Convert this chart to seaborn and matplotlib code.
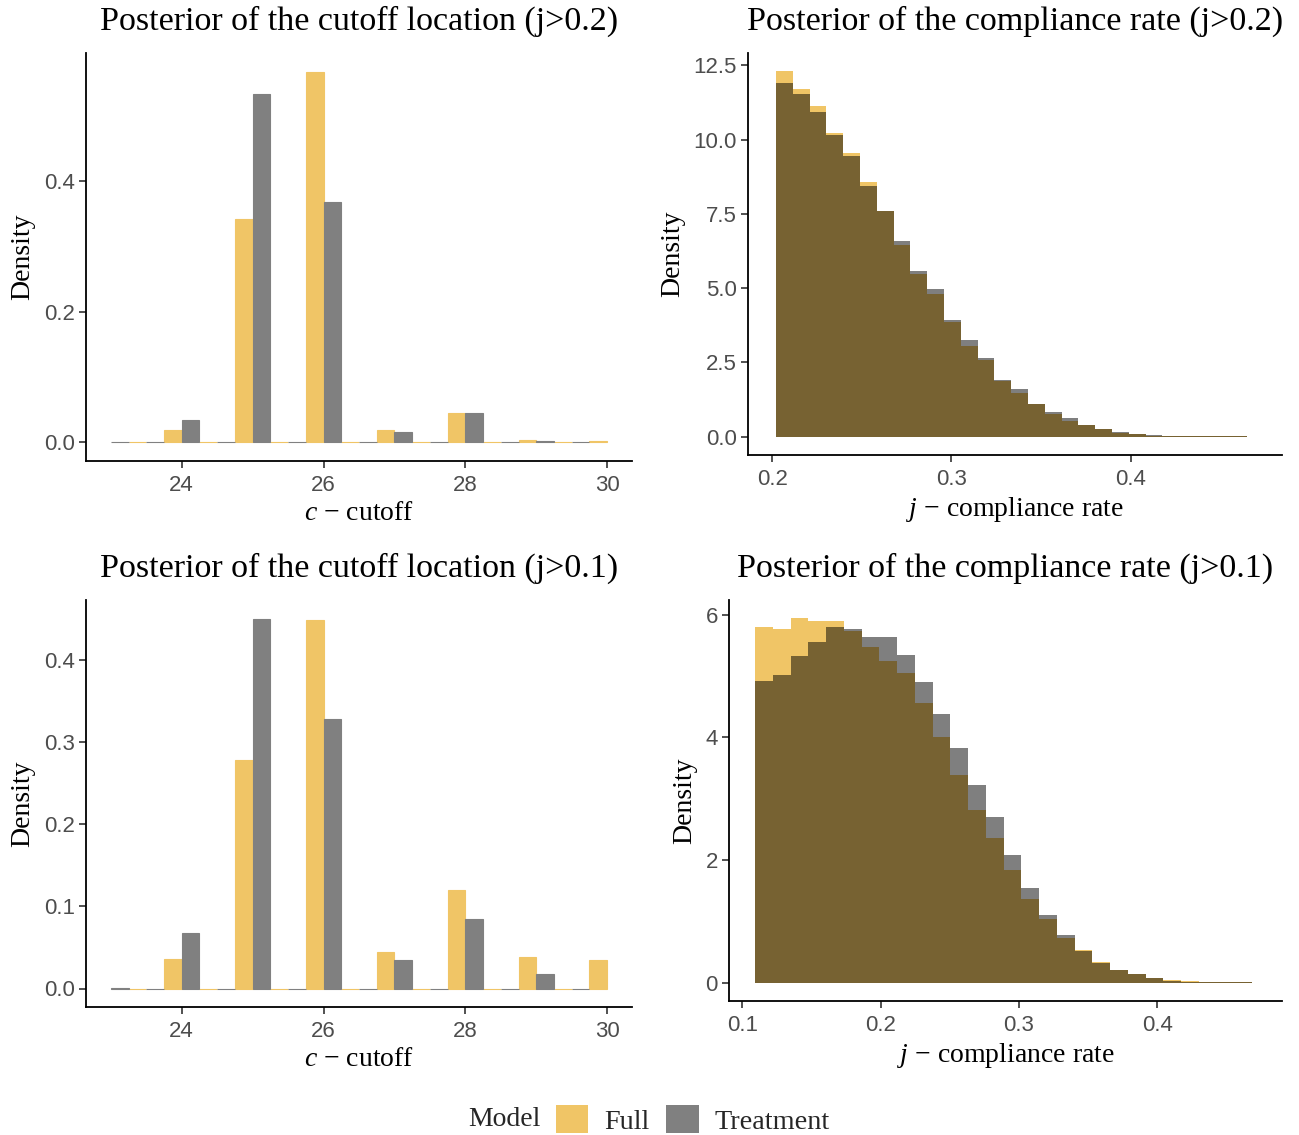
import numpy as np
import pandas as pd
import matplotlib
matplotlib.use("Agg")
import matplotlib.pyplot as plt
import seaborn as sns
from matplotlib.patches import Patch

# ---------------- data ----------------
models = ["Full", "Treatment"]

cutoff_pos = [23.0, 23.5, 24.0, 24.5, 25.0, 25.5, 26.0, 26.5,
              27.0, 27.5, 28.0, 28.5, 29.0, 29.5, 30.0]
# Posterior of the cutoff location (j>0.2)
full_cut_j02 = [np.nan, 0, 0.0194, 0, 0.342, 0, 0.568, 0,
                0.019, 0, 0.045, 0, 0.004, 0, 0.0025]
treat_cut_j02 = [0, 0, 0.0346, 0, 0.533, 0, 0.368, 0,
                 0.016, 0, 0.045, 0, 0.0025, 0, np.nan]
# Posterior of the cutoff location (j>0.1)
full_cut_j01 = [np.nan, 0, 0.036, 0, 0.278, 0, 0.449, 0,
                0.044, 0, 0.120, 0, 0.038, 0, 0.035]
treat_cut_j01 = [0.0012, 0, 0.068, 0, 0.451, 0, 0.329, 0,
                 0.035, 0, 0.085, 0, 0.018, 0, np.nan]

# Posterior of the compliance rate (j>0.2): 28 bins
rate_j02_range = (0.2021, 0.4647)
full_rate_j02 = [12.30, 11.69, 11.12, 10.21, 9.54, 8.57, 7.59, 6.45, 5.48, 4.81,
                 3.86, 3.06, 2.59, 1.88, 1.47, 1.11, 0.77, 0.54, 0.38, 0.25,
                 0.13, 0.10, 0.03, 0.03, 0.03, 0.01, 0.01, 0.01]
treat_rate_j02 = [11.90, 11.53, 10.92, 10.15, 9.44, 8.43, 7.59, 6.59, 5.58, 4.97,
                  3.93, 3.26, 2.65, 1.92, 1.61, 1.11, 0.84, 0.64, 0.40, 0.27,
                  0.17, 0.10, 0.07, 0.03, 0.03, 0.01, 0.01, 0.01]

# Posterior of the compliance rate (j>0.1): 28 bins
rate_j01_range = (0.1093, 0.4685)
full_rate_j01 = [5.79, 5.77, 5.94, 5.89, 5.89, 5.74, 5.47, 5.24, 5.05, 4.56,
                 4.01, 3.38, 2.81, 2.36, 1.84, 1.36, 1.04, 0.73, 0.53, 0.34,
                 0.21, 0.146, 0.08, 0.05, 0.03, 0.015, 0.01, 0.01]
treat_rate_j01 = [4.92, 5.01, 5.32, 5.56, 5.79, 5.77, 5.63, 5.63, 5.34, 4.90,
                  4.38, 3.82, 3.22, 2.70, 2.09, 1.54, 1.10, 0.78, 0.52, 0.32,
                  0.20, 0.135, 0.07, 0.03, 0.02, 0.015, 0.01, 0.01]

titles = ["Posterior of the cutoff location (j>0.2)",
          "Posterior of the compliance rate (j>0.2)",
          "Posterior of the cutoff location (j>0.1)",
          "Posterior of the compliance rate (j>0.1)"]

# ---------------- style ----------------
sns.set_theme(style="ticks")
plt.rcParams["font.family"] = ["Liberation Serif", "DejaVu Serif"]
plt.rcParams["mathtext.fontset"] = "custom"
plt.rcParams["mathtext.rm"] = "Liberation Serif"
plt.rcParams["mathtext.it"] = "Liberation Serif:italic"

FULL_BASE, FULL_ALPHA = "#E69F00", 0.6
TREAT_BASE, TREAT_ALPHA = "#000000", 0.5
FULL_SOLID = "#F0C566"
TREAT_SOLID = "#808080"

W, H = 1299, 1135
fig = plt.figure(figsize=(W / 100, H / 100), dpi=100)


def add_axes(l, r, t, b):
    return fig.add_axes([l / W, (H - b) / H, (r - l) / W, (b - t) / H])


ax_tl = add_axes(86, 632, 53, 461)
ax_tr = add_axes(748, 1282, 53, 455)
ax_bl = add_axes(86, 632, 600, 1007)
ax_br = add_axes(729, 1282, 600, 1001)

TICK_FONT = ["Liberation Sans", "DejaVu Sans"]


def style_axes(ax, title, xlabel):
    for s in ["top", "right"]:
        ax.spines[s].set_visible(False)
    for s in ["left", "bottom"]:
        ax.spines[s].set_linewidth(1.3)
        ax.spines[s].set_color("black")
    ax.tick_params(axis="both", length=5, width=1.2, color="#333333",
                   labelcolor="#4D4D4D", labelsize=16, pad=3)
    ax.tick_params(axis="x", pad=5)
    for lab in ax.get_xticklabels() + ax.get_yticklabels():
        lab.set_family(TICK_FONT)
    ax.set_title(title, fontsize=24.5, pad=17, color="black")
    ax.set_xlabel(xlabel, fontsize=20, labelpad=4, color="black")
    ax.set_ylabel("Density", fontsize=20, labelpad=6, color="black")


def cutoff_panel(ax, full_vals, treat_vals, yticks, title):
    df = pd.DataFrame({
        "cutoff": cutoff_pos * 2,
        "density": list(full_vals) + list(treat_vals),
        "model": ["Full"] * len(cutoff_pos) + ["Treatment"] * len(cutoff_pos),
    }).dropna()
    sns.barplot(data=df, x="cutoff", y="density", hue="model", hue_order=models,
                native_scale=True, width=1.0, dodge=True, errorbar=None,
                palette={"Full": FULL_SOLID, "Treatment": TREAT_SOLID},
                saturation=1, legend=False, ax=ax)
    for p in ax.patches:
        p.set_edgecolor(p.get_facecolor())
        p.set_linewidth(0.8)
    ymax = np.nanmax(list(full_vals) + list(treat_vals))
    ax.set_ylim(-0.05 * ymax, 1.05 * ymax)
    ax.set_xlim(22.65, 30.35)
    ax.set_xticks([24, 26, 28, 30])
    ax.set_xticklabels(["24", "26", "28", "30"])
    ax.set_yticks(yticks)
    ax.set_yticklabels([f"{v:.1f}" for v in yticks])
    style_axes(ax, title, r"$c$ − cutoff")


def rate_panel(ax, rng, full_vals, treat_vals, xlim, xticks, yticks, ylabels, title):
    nb = len(full_vals)
    edges = np.linspace(rng[0], rng[1], nb + 1)
    centers = (edges[:-1] + edges[1:]) / 2
    df = pd.DataFrame({"rate": centers, "full": full_vals, "treat": treat_vals})
    sns.histplot(data=df, x="rate", weights="full", bins=nb, binrange=rng,
                 stat="count", color=FULL_BASE, alpha=FULL_ALPHA, linewidth=0, ax=ax)
    sns.histplot(data=df, x="rate", weights="treat", bins=nb, binrange=rng,
                 stat="count", color=TREAT_BASE, alpha=TREAT_ALPHA, linewidth=0, ax=ax)
    ymax = max(max(full_vals), max(treat_vals))
    ax.set_ylim(-0.05 * ymax, 1.05 * ymax)
    ax.set_xlim(*xlim)
    ax.set_xticks(xticks)
    ax.set_xticklabels([f"{v:.1f}" for v in xticks])
    ax.set_yticks(yticks)
    ax.set_yticklabels(ylabels)
    style_axes(ax, title, r"$j$ − compliance rate")


cutoff_panel(ax_tl, full_cut_j02, treat_cut_j02, [0.0, 0.2, 0.4], titles[0])
rate_panel(ax_tr, rate_j02_range, full_rate_j02, treat_rate_j02,
           (0.1865, 0.4845), [0.2, 0.3, 0.4],
           [0, 2.5, 5, 7.5, 10, 12.5], ["0.0", "2.5", "5.0", "7.5", "10.0", "12.5"],
           titles[1])
cutoff_panel(ax_bl, full_cut_j01, treat_cut_j01, [0.0, 0.1, 0.2, 0.3, 0.4], titles[2])
rate_panel(ax_br, rate_j01_range, full_rate_j01, treat_rate_j01,
           (0.0904, 0.490), [0.1, 0.2, 0.3, 0.4],
           [0, 2, 4, 6], ["0", "2", "4", "6"], titles[3])

# ---------------- legend ----------------
handles = [Patch(facecolor=FULL_SOLID, edgecolor="none", label="Full"),
           Patch(facecolor=TREAT_SOLID, edgecolor="none", label="Treatment")]
fig.text(468 / W, (H - 1119) / H, "Model", fontsize=20, ha="left", va="center")
fig.legend(handles=handles, loc="center left", ncol=2, frameon=False,
           bbox_to_anchor=(556 / W, (H - 1120) / H), fontsize=20.3,
           handlelength=1.15, handleheight=1.15, handletextpad=0.55,
           columnspacing=0.6, borderaxespad=0, borderpad=0)

fig.savefig("out.png", dpi=100)
